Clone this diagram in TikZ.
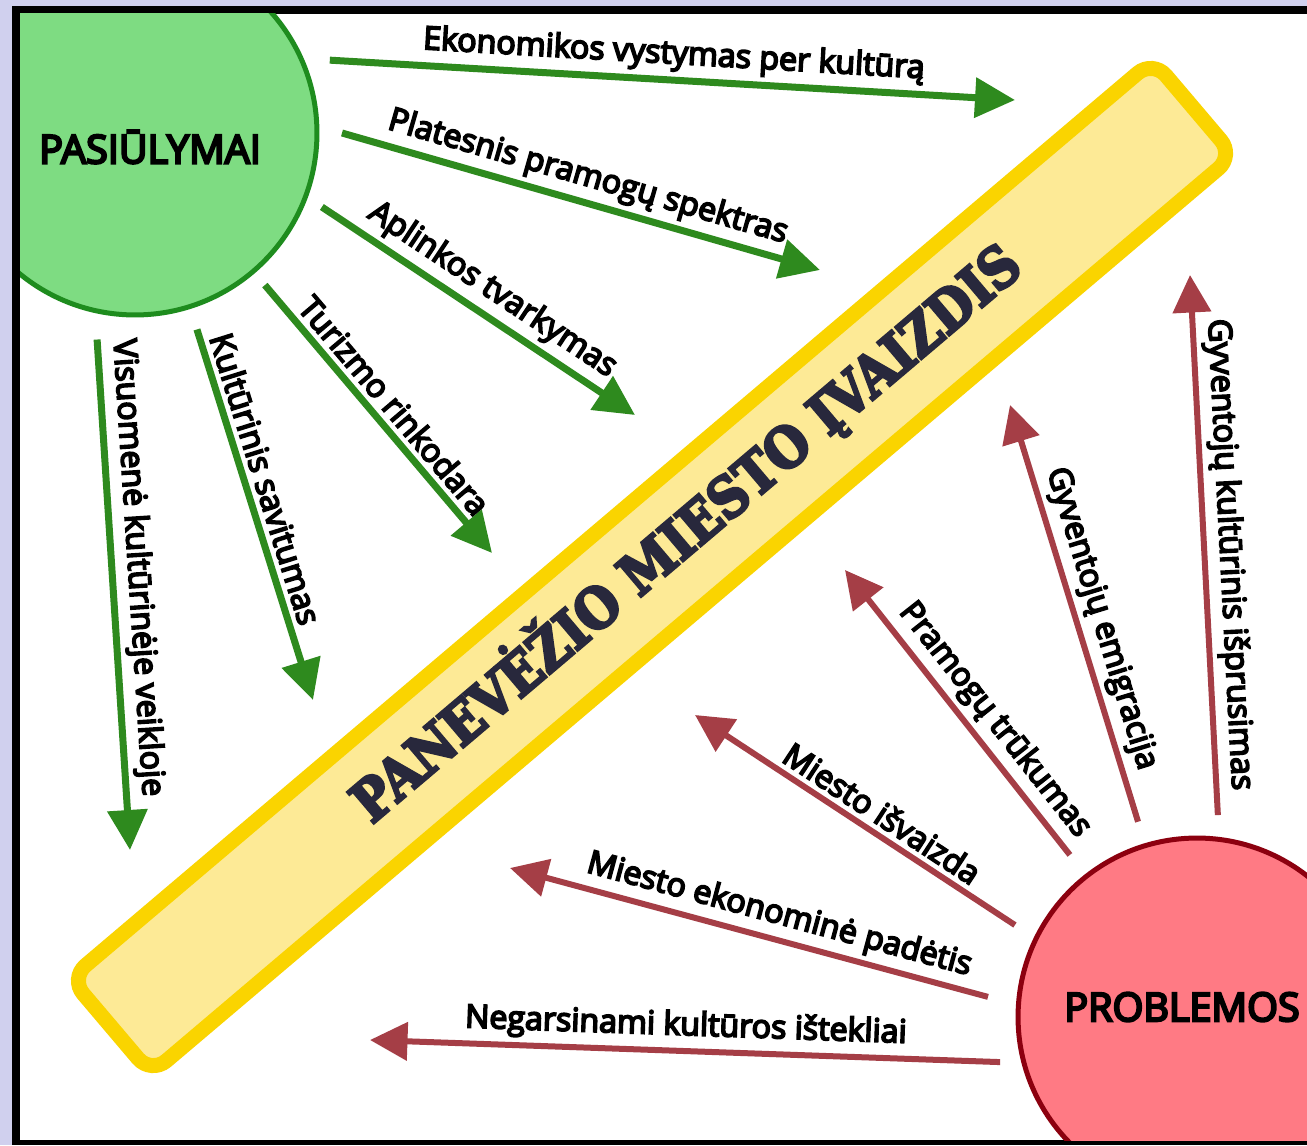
\documentclass[tikz,border=0pt]{standalone}
\usepackage{fontspec}
\setmainfont{Open Sans}
\newfontfamily\labelfont{Open Sans}
\newfontfamily\titlefont[FakeStretch=0.88]{DejaVu Serif}
\usetikzlibrary{arrows.meta, positioning, calc}

\definecolor{lavender}{RGB}{208,208,238}
\definecolor{propgreen}{RGB}{126,220,130}
\definecolor{propedge}{RGB}{30,140,30}
\definecolor{arrgreen}{RGB}{46,138,30}
\definecolor{probred}{RGB}{255,122,132}
\definecolor{probedge}{RGB}{140,0,15}
\definecolor{arrred}{RGB}{165,62,70}
\definecolor{bargold}{RGB}{250,212,0}
\definecolor{barfill}{RGB}{253,234,150}
\definecolor{titleink}{RGB}{40,40,60}

% heavier strokes for the labels (fill + stroke text)
\newcommand{\heavy}[2][1.0]{\special{pdf:literal direct 2 Tr #1 w}#2\special{pdf:literal direct 0 Tr}}

\tikzset{
  hub/.style={circle, line width=0.1cm},
  prop/.style={hub, draw=propedge, fill=propgreen, minimum size=7.28cm},
  prob/.style={hub, draw=probedge, fill=probred, minimum size=7.16cm},
  hubtext/.style={font=\labelfont\fontsize{22.5}{22.5}\selectfont},
  bar/.style={rectangle, rounded corners=0.4cm, draw=bargold, fill=barfill,
    line width=0.3cm, minimum width=28.4cm, minimum height=2.5cm, rotate=40.3},
  garrow/.style={-{Triangle[length=0.8cm,width=0.78cm]}, line width=0.14cm, arrgreen},
  rarrow/.style={-{Triangle[length=0.75cm,width=0.75cm]}, line width=0.12cm, arrred},
  lbl/.style={sloped, above, font=\labelfont\fontsize{18.3}{18.3}\selectfont, text=black, inner sep=3pt},
}

\begin{document}
\begin{tikzpicture}[x=0.02cm, y=-0.02cm]
  \useasboundingbox (0,0) rectangle (1307,1145);

  % frame
  \fill[lavender] (0,0) rectangle (1307,1145);
  \fill[black] (12,6) rectangle (1307,1145);
  \fill[white] (20,14) rectangle (1307,1140);

  \begin{scope}
  \clip (20,14) rectangle (1307,1140);

  % central bar
  \node[bar] (bar) at (652,567) {};
  \node[rotate=40.3, text=titleink, font=\titlefont\bfseries\fontsize{32}{32}\selectfont] (title) at (685,532) {\heavy[1.5]{PANEVĖŽIO MIESTO ĮVAIZDIS}};

  % hubs
  \node[prop] (pas) at (135,133) {};
  \node[hubtext] (pastxt) at ($(pas)+(15,14)$) {\heavy[1.3]{PASIŪLYMAI}};
  \node[prob] (prob) at (1197,1017) {};
  \node[hubtext] (probtxt) at ($(prob)+(-15,-10)$) {\heavy[1.3]{PROBLEMOS}};

  % arrow tips
  \coordinate (g1) at (1015,100);
  \coordinate (g2) at (820,270);
  \coordinate (g3) at (635,415);
  \coordinate (g4) at (492,553);
  \coordinate (g5) at (313,700);
  \coordinate (g6) at (130,850);
  \coordinate (r1) at (370,1040);
  \coordinate (r2) at (510,868);
  \coordinate (r3) at (695,715);
  \coordinate (r4) at (845,570);
  \coordinate (r5) at (1010,405);
  \coordinate (r6) at (1190,275);

  % proposals
  \draw[garrow] ($(pas)+(-20.5:208)$) -- node[lbl] {\heavy{Ekonomikos vystymas per kultūrą}} (g1);
  \draw[garrow] ($(pas)+(0:207)$) -- node[lbl] {\heavy{Platesnis pramogų spektras}} (g2);
  \draw[garrow] ($(pas)+(21.6:201)$) -- node[lbl] {\heavy{Aplinkos tvarkymas}} (g3);
  \draw[garrow] ($(pas)+(49.5:200)$) -- node[lbl] {\heavy{Turizmo rinkodara}} (g4);
  \draw[garrow] ($(pas)+(72.5:206)$) -- node[lbl, pos=0.42] {\heavy{Kultūrinis savitumas}} (g5);
  \draw[garrow] ($(pas)+(100.4:210)$) -- node[lbl, pos=0.45] {\heavy{Visuomenė kultūrinėje veikloje}} (g6);

  % problems
  \draw[rarrow] ($(prob)+(167.1:202)$) -- node[lbl] {\heavy{Negarsinami kultūros ištekliai}} (r1);
  \draw[rarrow] ($(prob)+(185.5:210)$) -- node[lbl, pos=0.45] {\heavy{Miesto ekonominė padėtis}} (r2);
  \draw[rarrow] ($(prob)+(206.8:204)$) -- node[lbl, pos=0.45] {\heavy{Miesto išvaizda}} (r3);
  \draw[rarrow] ($(prob)+(231.9:206)$) -- node[lbl, pos=0.42] {\heavy{Pramogų trūkumas}} (r4);
  \draw[rarrow] ($(prob)+(253.2:204)$) -- node[lbl, pos=0.47] {\heavy{Gyventojų emigracija}} (r5);
  \draw[rarrow] ($(prob)+(275.9:203)$) -- node[lbl, pos=0.48] {\heavy{Gyventojų kultūrinis išprusimas}} (r6);
  \end{scope}
\end{tikzpicture}
\end{document}
